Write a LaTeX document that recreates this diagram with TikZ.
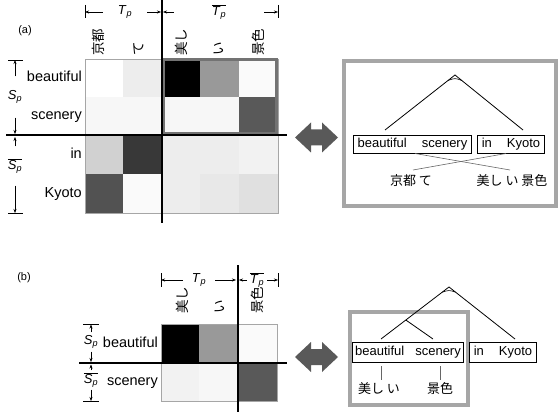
\documentclass[tikz,border=0pt]{standalone}
\usepackage{fontspec}
\setmainfont{Liberation Sans}
\newfontfamily\jpfont{Noto Sans CJK JP}
\usetikzlibrary{arrows.meta,calc}

% span labels T_p, \bar T_p, S_p, \bar S_p
\newcommand\Tlab{\textit{T}\textsubscript{\textit{p}}}
\newcommand\Tlabbar{$\overline{\mbox{\Tlab}}$}
\newcommand\Slab{\textit{S}\textsubscript{\textit{p}}}
\newcommand\Slabbar{$\overline{\mbox{\Slab}}$}

\tikzset{
  rowlab/.style={font=\fontsize{14.5}{17}\selectfont, inner sep=0pt, anchor=base east},
  collab/.style={font=\jpfont\fontsize{13.5}{16}\selectfont, rotate=90, anchor=west, inner sep=0pt},
  dimlab/.style={font=\fontsize{13}{15}\selectfont, inner sep=0pt},
  dimarrow/.style={-{Stealth[length=4pt,width=3pt]}, line width=0.5pt},
  tickline/.style={line width=0.5pt},
  thickaxis/.style={line width=2pt},
  hlbox/.style={draw=black!55, line width=3pt},
  treeframe/.style={draw=black!35, line width=4pt},
  wordbox/.style={draw, line width=0.8pt, font=\fontsize{13}{15}\selectfont,
    inner xsep=4.5pt, inner ysep=0pt, minimum height=18pt},
  branch/.style={line width=0.8pt},
  linkline/.style={draw=black!60, line width=0.6pt},
  jp/.style={font=\jpfont\fontsize{13}{15}\selectfont, inner sep=0pt},
  panellab/.style={font=\fontsize{11}{13}\selectfont, inner sep=0pt},
  dblarrow/.pic={
    \fill[black!65] (-21.5,0) -- (-5.5,-15) -- (-5.5,-8) -- (5.5,-8) -- (5.5,-15)
      -- (21.5,0) -- (5.5,15) -- (5.5,8) -- (-5.5,8) -- (-5.5,15) -- cycle;
  }
}

\begin{document}
\begin{tikzpicture}[x=1pt,y=-1pt]
\useasboundingbox (0,0) rectangle (560,417);

% ================= (a) =================
\node[panellab] (la) at (25,31) {(a)};

% alignment matrix cells
\fill[black!0]   (85,59) rectangle (123,97);
\fill[black!7]   (123,59) rectangle (162,97);
\fill[black!100] (162,59) rectangle (200,97);
\fill[black!40]  (200,59) rectangle (239,97);
\fill[black!2]   (239,59) rectangle (278,97);

\fill[black!3]   (85,97) rectangle (123,136);
\fill[black!3]   (123,97) rectangle (162,136);
\fill[black!3]   (162,97) rectangle (200,136);
\fill[black!3]   (200,97) rectangle (239,136);
\fill[black!65]  (239,97) rectangle (278,136);

\fill[black!18]  (85,136) rectangle (123,174);
\fill[black!78]  (123,136) rectangle (162,174);
\fill[black!7]   (162,136) rectangle (200,174);
\fill[black!7]   (200,136) rectangle (239,174);
\fill[black!5]   (239,136) rectangle (278,174);

\fill[black!68]  (85,174) rectangle (123,213);
\fill[black!2]   (123,174) rectangle (162,213);
\fill[black!7]   (162,174) rectangle (200,213);
\fill[black!9]   (200,174) rectangle (239,213);
\fill[black!12]  (239,174) rectangle (278,213);

\draw[black!35, line width=0.6pt] (85,59) rectangle (278,213);
\draw[hlbox] (163,59.5) rectangle (276.5,133.5);

% split lines
\draw[thickaxis] (162,0) -- (162,223);
\draw[thickaxis] (6,135) -- (287,135);

% row and column labels
\node[rowlab] (aRb) at (82,82)    {beautiful};
\node[rowlab] (aRs) at (82,120)   {scenery};
\node[rowlab] (aRi) at (82,158.5) {in};
\node[rowlab] (aRk) at (82,197.5) {Kyoto};

\node[collab] (aC1) at (98,56)  {京都};
\node[collab] (aC2) at (139,56) {て};
\node[collab] (aC3) at (181,56) {美し};
\node[collab] (aC4) at (219,56) {い};
\node[collab] (aC5) at (258,56) {景色};

% top spans
\draw[tickline] (85,5) -- (85,18);
\coordinate (aTl) at (85,12);
\coordinate (aTr) at (161,12);
\node[dimlab, inner xsep=15pt] (aTp) at (125,12) {\Tlab};
\draw[dimarrow] (aTp.west) -- (aTl);
\draw[dimarrow] (aTp.east) -- (aTr);

\draw[tickline] (278,5) -- (278,18);
\coordinate (aTbl) at (163,12);
\coordinate (aTbr) at (278,12);
\node[dimlab, inner xsep=38pt] (aTb) at (219,12) {\Tlabbar};
\draw[dimarrow] (aTb.west) -- (aTbl);
\draw[dimarrow] (aTb.east) -- (aTbr);

% left spans
\draw[tickline] (8,60) -- (23,60);
\coordinate (aSt) at (15,60);
\coordinate (aSm) at (15,134);
\node[dimlab, inner ysep=14pt] (aSp) at (15,97) {\Slab};
\draw[dimarrow] (aSp.north) -- (aSt);
\draw[dimarrow] (aSp.south) -- (aSm);

\draw[tickline] (8,213) -- (23,213);
\coordinate (aSbt) at (15,137);
\coordinate (aSbb) at (15,213);
\node[dimlab, inner ysep=12pt] (aSb) at (15,166) {\Slabbar};
\draw[dimarrow] (aSb.north) -- (aSbt);
\draw[dimarrow] (aSb.south) -- (aSbb);

% correspondence arrow
\pic at (316.5,137.5) {dblarrow};

% tree with crossed alignment
\draw[treeframe] (344,61) rectangle (556,206);
\node[wordbox] (aBS) at (412.5,144) {beautiful\hspace{15pt}scenery};
\node[wordbox] (aIK) at (511,144) {in\hspace{15pt}Kyoto};
\coordinate (aApex) at (455,75);
\coordinate (aL) at (385,130);
\coordinate (aR) at (523,130);
\draw[branch] (aL) -- (aApex) -- (aR);
\draw[line width=0.6pt] ($(aApex)!0.1!(aL)$) .. controls ($(aApex)+(0,3)$) .. ($(aApex)!0.1!(aR)$);

\node[jp] (aJ1) at (411,181) {京都 て};
\node[jp] (aJ2) at (512,181) {美し い 景色};
\coordinate (aX1a) at (415,153.5);
\coordinate (aX1b) at (510,170);
\coordinate (aX2a) at (506,153.5);
\coordinate (aX2b) at (413,170);
\draw[linkline] (aX1a) -- (aX1b);
\draw[linkline] (aX2a) -- (aX2b);

% ================= (b) =================
\node[panellab] (lb) at (24,278) {(b)};

\fill[black!100] (161,324) rectangle (199,363);
\fill[black!40]  (199,324) rectangle (238,363);
\fill[black!2]   (238,324) rectangle (277,363);
\fill[black!5]   (161,363) rectangle (199,401);
\fill[black!3]   (199,363) rectangle (238,401);
\fill[black!65]  (238,363) rectangle (277,401);
\draw[black!35, line width=0.6pt] (161,324) rectangle (277,401);

\draw[thickaxis] (237.5,265) -- (237.5,412);
\draw[thickaxis] (79,363) -- (287,363);

\node[rowlab] (bRb) at (158,347)   {beautiful};
\node[rowlab] (bRs) at (158,385.5) {scenery};

\node[collab] (bC1) at (182,314) {美し};
\node[collab] (bC2) at (220,314) {い};
\node[collab] (bC3) at (257,314) {景色};

% top spans
\draw[tickline] (161,273) -- (161,287);
\coordinate (bTl) at (161,280);
\coordinate (bTr) at (236,280);
\node[dimlab, inner xsep=9pt] (bTp) at (199,280) {\Tlab};
\draw[dimarrow] (bTp.west) -- (bTl);
\draw[dimarrow] (bTp.east) -- (bTr);

\draw[tickline] (278,273) -- (278,287);
\coordinate (bTbl) at (239,280);
\coordinate (bTbr) at (278,280);
\node[dimlab, inner xsep=3pt] (bTb) at (257,280) {\Tlabbar};
\draw[dimarrow] (bTb.west) -- (bTbl);
\draw[dimarrow] (bTb.east) -- (bTbr);

% left spans
\draw[tickline] (83,324) -- (99,324);
\coordinate (bSt) at (91,324.5);
\coordinate (bSm) at (91,362);
\node[dimlab, inner ysep=3pt] (bSp) at (91,342) {\Slab};
\draw[dimarrow] (bSp.north) -- (bSt);
\draw[dimarrow] (bSp.south) -- (bSm);

\draw[tickline] (83,401) -- (99,401);
\coordinate (bSbt) at (91,364.5);
\coordinate (bSbb) at (91,401);
\node[dimlab, inner ysep=2pt] (bSb) at (91,380) {\Slabbar};
\draw[dimarrow] (bSb.north) -- (bSbt);
\draw[dimarrow] (bSb.south) -- (bSbb);

\pic at (316.5,357) {dblarrow};

% tree with monotone alignment
\draw[treeframe] (350,312) rectangle (468,405);
\node[wordbox, inner xsep=3pt, minimum height=20pt] (bBS) at (408,352) {beautiful\hspace{11pt}scenery};
\node[wordbox, minimum height=20pt] (bIK) at (503,352) {in\hspace{15pt}Kyoto};
\coordinate (bApex) at (449,287);
\coordinate (bL1) at (381,339);
\coordinate (bR) at (515,339);
\coordinate (bIn) at ($(bApex)!0.635!(bL1)$);
\coordinate (bL2) at (433,339);
\draw[branch] (bL1) -- (bApex) -- (bR);
\draw[branch] (bIn) -- (bL2);
\draw[line width=0.6pt] ($(bApex)!0.1!(bL1)$) .. controls ($(bApex)+(0,3)$) .. ($(bApex)!0.1!(bR)$);

\node[jp] (bJ1) at (379,389) {美し い};
\node[jp] (bJ2) at (440,389) {景色};
\coordinate (bV1a) at (381,366);
\coordinate (bV1b) at (381,380);
\coordinate (bV2a) at (440,366);
\coordinate (bV2b) at (440,380);
\draw[linkline] (bV1a) -- (bV1b);
\draw[linkline] (bV2a) -- (bV2b);

\end{tikzpicture}
\end{document}
